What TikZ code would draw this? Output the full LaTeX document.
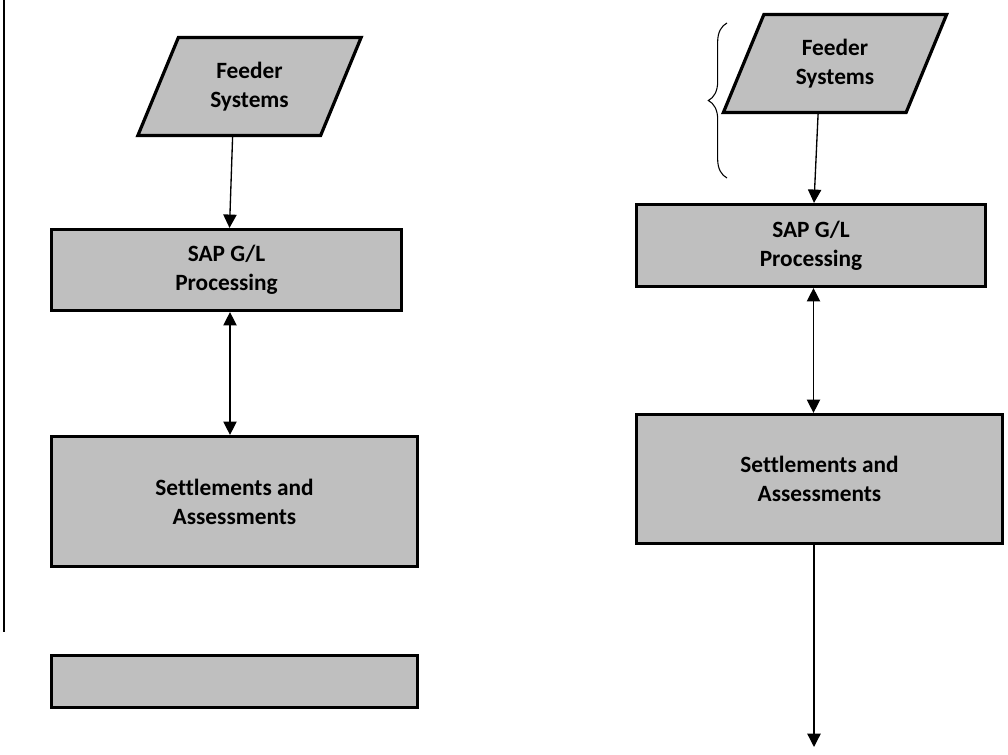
\documentclass[tikz,border=0pt]{standalone}
\usepackage{fontspec}
\setmainfont{Carlito}[Ligatures=NoCommon]
\usetikzlibrary{arrows.meta,shapes.geometric,decorations.pathreplacing,calc}

\begin{document}
\begin{tikzpicture}[x=0.75pt, y=-0.75pt,
	box/.style={rectangle, draw, line width=2.4pt, fill=black!25, align=center,
	font=\fontsize{17.5}{21.75}\selectfont\bfseries},
	feed/.style={box, trapezium, trapezium left angle=65.5, trapezium right angle=114.5,
	trapezium stretches=true, minimum width=168pt, minimum height=73.5pt, inner sep=0pt},
	>={Triangle[length=10pt,width=10pt]}, link/.style={line width=1pt}]

\useasboundingbox (0,0) rectangle (1008,755);
\draw[line width=1.2pt] (4,0) -- (4,632);

% left column
\node[feed] at (249.5,86.5) (feedA) {Feeder\\Systems};
\node[box, minimum width=262.5pt, minimum height=60.75pt] at (226.5,270) (sapA) {SAP G/L\\Processing};
\node[box, minimum width=274.5pt, minimum height=97.5pt] at (234.5,501.5) (setA) {Settlements and\\Assessments};
\node[box, minimum width=274.5pt, minimum height=39pt] at (234.5,681.5) (blankA) {};

% right column
\node[feed] at (835,63.5) (feedB) {Feeder\\Systems};
\node[box, minimum width=261.75pt, minimum height=61.5pt] at (811,245.5) (sapB) {SAP G/L\\Processing};
\node[box, minimum width=274.5pt, minimum height=96.75pt] at (819.5,479) (setB) {Settlements and\\Assessments};
\coordinate (endB) at (814,747);

\draw[link,->] ($(feedA.bottom side)+(4,0)$) -- ($(sapA.north)+(3,0)$);
\draw[link,<->] ($(sapA.south)+(3.5,0)$) -- ($(sapA.south |- setA.north)+(3.5,0)$);
\draw[link,->] ($(feedB.bottom side)+(4,0)$) -- ($(sapB.north)+(3,0)$);
\draw[link,<->] ($(sapB.south)+(2.5,0)$) -- ($(sapB.south |- setB.north)+(2.5,0)$);
\draw[link,->] (setB.south -| endB) -- (endB);

\draw[line width=0.8pt, decorate, decoration={brace, amplitude=14pt}] (727,178) -- (727,23);
\end{tikzpicture}
\end{document}
